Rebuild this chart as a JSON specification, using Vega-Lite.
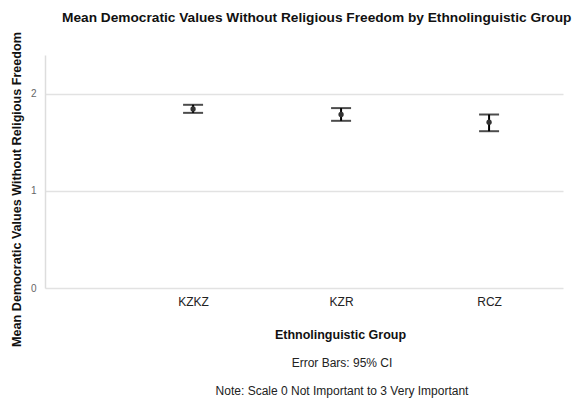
{
  "$schema": "https://vega.github.io/schema/vega-lite/v6.json",
  "background": "white",
  "padding": {"left": 10, "right": 3, "top": 11, "bottom": 2},
  "config": {
    "font": "Liberation Sans",
    "view": {"stroke": null},
    "concat": {"spacing": 0}
  },
  "title": {
    "text": "Mean Democratic Values Without Religious Freedom by Ethnolinguistic Group",
    "font": "Liberation Sans",
    "fontSize": 13.7,
    "fontWeight": "bold",
    "color": "#111111",
    "anchor": "middle",
    "dx": 30,
    "offset": 6.5
  },
  "vconcat": [
    {
      "width": 518,
      "height": 233,
      "title": {
        "text": "Error Bars: 95% CI",
        "subtitle": "Note:  Scale 0 Not Important to 3 Very Important",
        "orient": "bottom",
        "anchor": "middle",
        "dx": 38,
        "font": "Liberation Sans",
        "fontSize": 12,
        "fontWeight": "normal",
        "color": "#222222",
        "subtitleFont": "Liberation Sans",
        "subtitleFontSize": 12,
        "subtitleColor": "#222222",
        "subtitlePadding": 16,
        "offset": 12
      },
      "data": {
        "values": [
          {"group": "KZKZ", "mean": 1.845, "lower": 1.804, "upper": 1.887},
          {"group": "KZR", "mean": 1.787, "lower": 1.722, "upper": 1.853},
          {"group": "RCZ", "mean": 1.708, "lower": 1.615, "upper": 1.787}
        ]
      },
      "encoding": {
        "x": {
          "field": "group",
          "type": "nominal",
          "sort": ["KZKZ", "KZR", "RCZ"],
          "scale": {"type": "point", "padding": 0.75, "align": 0.667},
          "axis": {
            "title": "Ethnolinguistic Group",
            "labelAngle": 0,
            "ticks": false,
            "domain": false,
            "grid": false,
            "labelFontSize": 12,
            "labelColor": "#222222",
            "labelPadding": 8,
            "titleFontSize": 12.5,
            "titleFontWeight": "bold",
            "titleColor": "#111111",
            "titlePadding": 21,
            "titleX": 295
          }
        }
      },
      "layer": [
        {
          "mark": {"type": "rule", "color": "#000000", "strokeWidth": 2},
          "encoding": {
            "y": {
              "field": "lower",
              "type": "quantitative",
              "scale": {"domain": [0, 2.4], "nice": false},
              "axis": {
                "title": "Mean Democratic Values Without Religious Freedom",
                "values": [0, 1, 2],
                "format": "d",
                "grid": true,
                "gridColor": "#e2e2e2",
                "gridWidth": 1.5,
                "domain": true,
                "domainColor": "#dddddd",
                "domainWidth": 1.5,
                "ticks": false,
                "labelFontSize": 10,
                "labelColor": "#666666",
                "labelPadding": 9,
                "titleFontSize": 12.6,
                "titleFontWeight": "bold",
                "titleColor": "#111111",
                "titlePadding": 7,
                "titleY": 134
              }
            },
            "y2": {"field": "upper"}
          }
        },
        {
          "mark": {"type": "tick", "orient": "horizontal", "size": 20, "thickness": 2, "color": "#000000"},
          "encoding": {"y": {"field": "upper", "type": "quantitative"}}
        },
        {
          "mark": {"type": "tick", "orient": "horizontal", "size": 20, "thickness": 2, "color": "#000000"},
          "encoding": {"y": {"field": "lower", "type": "quantitative"}}
        },
        {
          "mark": {"type": "point", "filled": true, "size": 28, "color": "#333333", "opacity": 1},
          "encoding": {"y": {"field": "mean", "type": "quantitative"}}
        }
      ]
    }
  ]
}
